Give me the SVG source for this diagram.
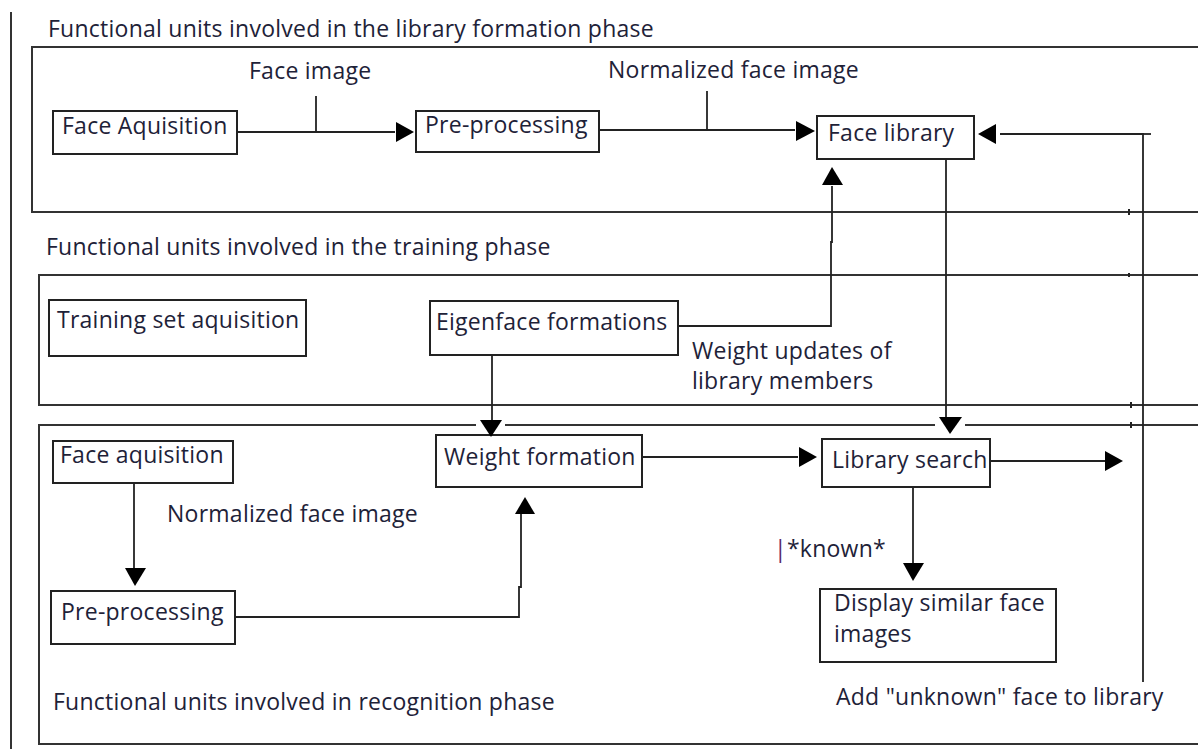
<svg xmlns="http://www.w3.org/2000/svg" width="1198" height="749" viewBox="0 0 1198 749">
<defs>
<style>
text{font-family:"Open Sans","Noto Sans","Liberation Sans",sans-serif;font-size:23px;letter-spacing:0.25px;fill:#1e2238}
.box{fill:#fff;stroke:#222;stroke-width:2}
.ln{fill:none;stroke:#222;stroke-width:1.8}
.fr{fill:none;stroke:#333;stroke-width:2}
.ah{fill:#000;stroke:none}
</style>
</defs>
<rect width="1198" height="749" fill="#fff"/>
<g id="frames">
<line class="fr" x1="11" y1="12" x2="11" y2="749"/>
<polyline class="fr" points="1198,47 32,47 32,212 1198,212"/>
<polyline class="fr" points="1198,275 39,275 39,405 1198,405"/>
<polyline class="fr" points="476,425 39,425 39,744 1198,744"/>
<line class="fr" x1="505" y1="425" x2="935" y2="425"/>
<line class="fr" x1="965" y1="425" x2="1198" y2="425"/>
<g stroke="#222" stroke-width="2">
<line x1="1129" y1="209" x2="1129" y2="215"/>
<line x1="1129" y1="273" x2="1129" y2="277"/>
<line x1="1131" y1="402" x2="1131" y2="408"/>
<line x1="1131" y1="422" x2="1131" y2="428"/>
</g>
<text x="48" y="37">Functional units involved in the library formation phase</text>
<text x="46" y="255">Functional units involved in the training phase</text>
<text x="53" y="710">Functional units involved in recognition phase</text>
</g>
<g id="face-aquisition-1"><rect class="box" x="53" y="111" width="184" height="43"/><text x="62" y="134">Face Aquisition</text></g>
<g id="pre-processing-1"><rect class="box" x="416" y="111" width="183" height="41"/><text x="425" y="133">Pre-processing</text></g>
<g id="face-library"><rect class="box" x="817" y="116" width="157" height="43"/><text x="828" y="141">Face library</text></g>
<g id="training-set"><rect class="box" x="49" y="300" width="257" height="56"/><text x="57" y="328">Training set aquisition</text></g>
<g id="eigenface"><rect class="box" x="430" y="301" width="248" height="54"/><text x="436" y="330">Eigenface formations</text></g>
<g id="weight-formation"><rect class="box" x="436" y="435" width="206" height="52"/><text x="444" y="465">Weight formation</text></g>
<g id="library-search"><rect class="box" x="822" y="439" width="168" height="48"/><text x="832" y="468">Library search</text></g>
<g id="display-similar"><rect class="box" x="820" y="589" width="236" height="73"/><text x="834" y="611">Display similar face</text><text x="834" y="642">images</text></g>
<g id="face-aquisition-2"><rect class="box" x="53" y="441" width="180" height="42"/><text x="60" y="463">Face aquisition</text></g>
<g id="pre-processing-2"><rect class="box" x="51" y="591" width="184" height="53"/><text x="61" y="620">Pre-processing</text></g>
<g id="connectors">
<line class="ln" x1="237" y1="132" x2="395" y2="132"/>
<line class="ln" x1="316" y1="96" x2="316" y2="132"/>
<polygon class="ah" points="396,122 414,132 396,142"/>
<line class="ln" x1="599" y1="130" x2="795" y2="130"/>
<line class="ln" x1="707" y1="91" x2="707" y2="131"/>
<polygon class="ah" points="796,121 815,131 796,141"/>
<polyline class="ln" points="1143,682 1143,134 1000,134"/>
<line class="ln" x1="1143" y1="134" x2="1151" y2="134"/>
<polygon class="ah" points="996,124 978,134 996,144"/>
<polyline class="ln" points="678,326 831,326 831,242 832,242 832,186"/>
<polygon class="ah" points="822,185 832,167 843,185"/>
<line class="ln" x1="946" y1="159" x2="946" y2="417"/>
<polygon class="ah" points="939,417 962,417 950,434"/>
<line class="ln" x1="492" y1="356" x2="492" y2="420"/>
<polygon class="ah" points="480,420 502,420 491,437"/>
<line class="ln" x1="642" y1="457" x2="798" y2="457"/>
<polygon class="ah" points="799,447 817,457 799,467"/>
<line class="ln" x1="990" y1="461" x2="1105" y2="461"/>
<polygon class="ah" points="1105,451 1123,461 1105,471"/>
<line class="ln" x1="913" y1="487" x2="913" y2="563"/>
<polygon class="ah" points="903,563 924,563 913,581"/>
<line class="ln" x1="134" y1="483" x2="134" y2="568"/>
<polygon class="ah" points="125,568 146,568 135,586"/>
<polyline class="ln" points="235,617 519,617 519,587 521,587 521,514"/>
<polygon class="ah" points="515,514 525,497 535,514"/>
<text x="249" y="79">Face image</text>
<text x="608" y="78">Normalized face image</text>
<text x="692" y="359">Weight updates of</text>
<text x="692" y="389">library members</text>
<text x="167" y="522">Normalized face image</text>
<text x="774" y="557"><tspan fill="#5a2a6a">|</tspan>*known*</text>
<text x="836" y="705">Add "unknown" face to library</text>
</g>
</svg>
